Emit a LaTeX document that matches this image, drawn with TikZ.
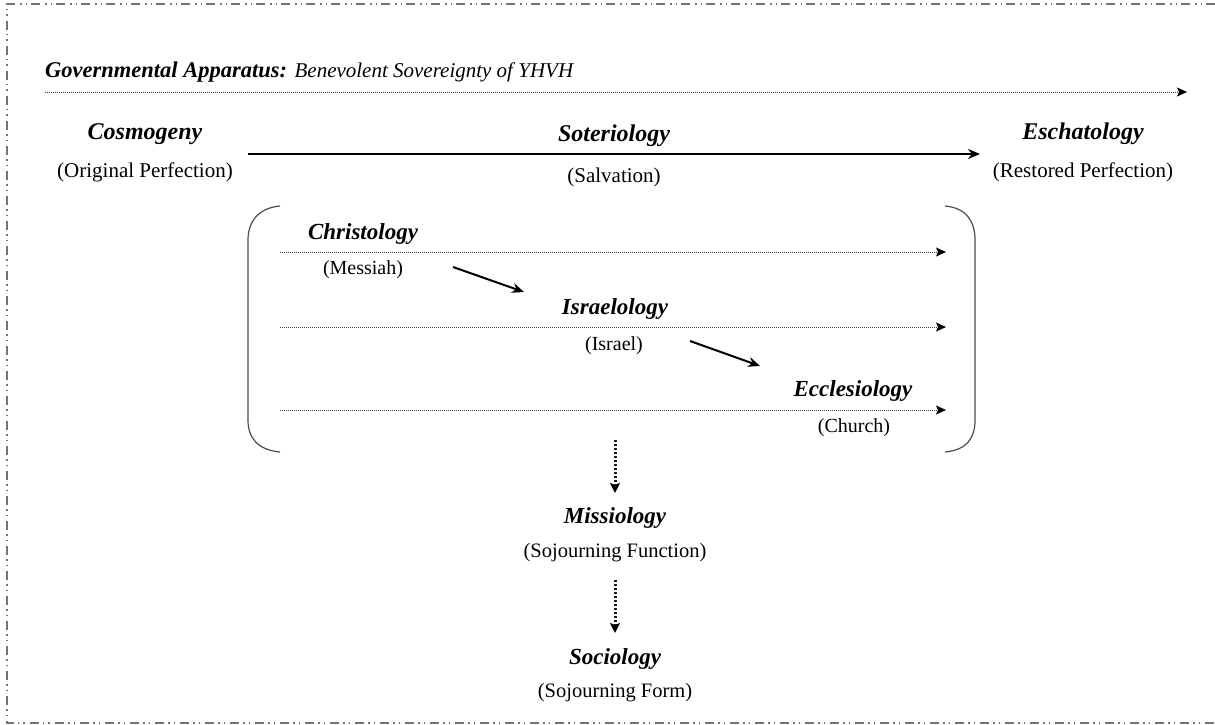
\documentclass[tikz,border=0pt]{standalone}
\usepackage{fontspec}
\setmainfont{Liberation Serif}
\usetikzlibrary{arrows.meta}

\tikzset{
  head/.style={font=\fontsize{23}{25}\selectfont\bfseries\itshape, inner sep=0pt},
  bighead/.style={head, font=\fontsize{24}{26}\selectfont\bfseries\itshape},
  sub/.style={font=\fontsize{20}{22}\selectfont, inner sep=0pt},
  bigsub/.style={sub, font=\fontsize{21}{23}\selectfont},
  dotline/.style={black!75, line width=1pt, dash pattern=on 1pt off 1pt,
    -{Stealth[length=10pt,width=9pt,black,inset=2pt]}},
  flowline/.style={black!90, line width=3pt, dash pattern=on 2pt off 2pt,
    -{Stealth[length=10pt,width=10pt,black,inset=2pt]}},
  stepline/.style={line width=2pt, -{Stealth[length=12pt,width=10pt]}},
  bracket/.style={black!70, line width=1.2pt},
  frame/.style={black!55, line width=1.2pt,
    dash pattern=on 9pt off 4pt on 1.5pt off 4pt on 1.5pt off 5pt}
}

\begin{document}
\begin{tikzpicture}[x=1pt,y=-1pt]
\useasboundingbox (0,0) rectangle (1215,725);
\clip (0,0) rectangle (1215,725);

% frame
\draw[frame] (1240,4) -- (7,4) -- (7,723) -- (1240,723);

% governing sovereignty
\node at (45,72) (gov)[anchor=west, inner sep=0pt]
  {\fontsize{22.5}{24}\selectfont\textbf{\textit{Governmental Apparatus:}}
   \fontsize{21}{23}\selectfont\textit{Benevolent Sovereignty of YHVH}};
\coordinate (gov start) at (45,92);
\coordinate (gov end) at (1187,92);
\draw[dotline] (gov start) -- (gov end);

% cosmogeny - soteriology - eschatology
\node[bighead] at (145,134) (cosmo) {Cosmogeny};
\node[bigsub]  at (145,172) (orig) {(Original Perfection)};
\node[bighead] at (614,136) (soter) {Soteriology};
\node[bigsub]  at (614,177) (salv) {(Salvation)};
\node[bighead] at (1083,134) (escha) {Eschatology};
\node[bigsub]  at (1083,172) (rest) {(Restored Perfection)};
\coordinate (sal start) at (248,154);
\coordinate (sal end) at (980,154);
\draw[stepline] (sal start) -- (sal end);

% brackets
\draw[bracket] (280,206) .. controls (258,208) and (248,222) .. (248,240)
  -- (248,420) .. controls (248,438) and (258,450) .. (280,452);
\draw[bracket] (945,206) .. controls (967,208) and (975,222) .. (975,240)
  -- (975,420) .. controls (975,438) and (967,450) .. (945,452);

% christology, israelology, ecclesiology
\node[head] at (363,234) (chris) {Christology};
\node[sub]  at (363,270) (mess) {(Messiah)};
\node[head] at (615,309) (isra) {Israelology};
\node[sub]  at (614,346) (isr) {(Israel)};
\node[head] at (853,391) (eccl) {Ecclesiology};
\node[sub]  at (854,428) (church) {(Church)};

\foreach \y/\n in {252/a,327/b,410/c}{
  \coordinate (\n0) at (280,\y);
  \coordinate (\n1) at (946,\y);
  \draw[dotline] (\n0) -- (\n1);
}

\coordinate (m0) at (453,267);
\coordinate (m1) at (524,292);
\coordinate (i0) at (690,341);
\coordinate (i1) at (760,366);
\draw[stepline] (m0) -- (m1);
\draw[stepline] (i0) -- (i1);

% missiology, sociology
\node[head] at (615,518) (miss) {Missiology};
\node[sub, font=\fontsize{20.5}{22}\selectfont]  at (615,553) (func) {(Sojourning Function)};
\node[head] at (615,659) (soci) {Sociology};
\node[sub, font=\fontsize{20.5}{22}\selectfont]  at (615,693) (form) {(Sojourning Form)};
\coordinate (down0) at (615,440);
\coordinate (down1) at (615,493);
\coordinate (down2) at (615,580);
\coordinate (down3) at (615,633);
\draw[flowline] (down0) -- (down1);
\draw[flowline] (down2) -- (down3);
\end{tikzpicture}
\end{document}
